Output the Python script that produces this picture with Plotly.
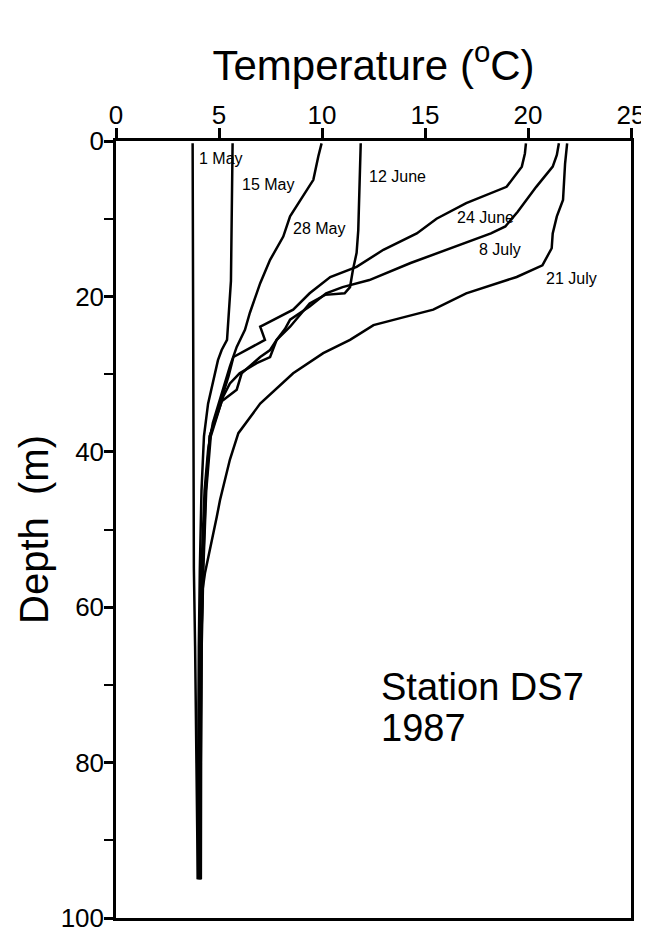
import plotly.graph_objects as go

# ---- data: temperature (deg C) vs depth (m) profiles, Station DS7, 1987 ----
may01_T = [3.72, 3.74, 3.76, 3.78, 3.84, 3.92, 3.97]
may01_D = [0.3, 20, 40, 55, 65, 80, 95]

may15_T = [5.66, 5.64, 5.60, 5.58, 5.39, 5.13, 4.95, 4.47, 4.27, 4.15, 4.07, 4.02, 3.99, 3.98]
may15_D = [0.3, 5, 14, 18, 25.6, 26.9, 28.2, 33.8, 38, 45, 55, 65, 80, 95]

may28_T = [9.98, 9.82, 9.58, 9.26, 8.45, 8.12, 7.48, 7.0, 6.5, 6.26, 5.86, 5.53, 5.13, 4.7, 4.47, 4.3, 4.15, 4.07, 4.04, 4.03]
may28_D = [0.3, 2, 5, 6.3, 9.7, 12.3, 15.3, 18.3, 22.1, 24.3, 26.5, 29, 32.4, 36.3, 39.8, 45, 55, 65, 80, 95]

jun12_T = [11.88, 11.84, 11.76, 11.68, 11.5, 11.36, 11.1, 10.15, 9.4, 8.45, 7.8, 7.48, 7.0, 6.1, 5.94, 5.86, 5.13, 4.55, 4.34, 4.2, 4.12, 4.08, 4.07]
jun12_D = [0.3, 3.7, 11.5, 14.4, 16.6, 18.8, 19.6, 19.8, 20.9, 23.9, 25.6, 26.9, 27.8, 29.9, 31.2, 32, 33.5, 38, 45, 55, 65, 80, 95]

jun24_T = [19.9, 19.85, 19.7, 18.96, 17.0, 15.56, 14.6, 12.98, 11.68, 10.4, 9.4, 8.6, 7.15, 7.0, 7.23, 5.7, 5.46, 5.05, 4.55, 4.36, 4.22, 4.14, 4.1, 4.1]
jun24_D = [0.3, 1.6, 3.3, 5.9, 8.0, 10, 11.9, 14, 16.2, 17.5, 19.6, 21.7, 23.7, 23.9, 25.6, 27.8, 30.3, 33.7, 38, 45, 55, 65, 80, 95]

jul08_T = [21.5, 21.4, 21.2, 20.4, 19.5, 18.9, 18.2, 16.2, 14.3, 12.3, 11.0, 10.2, 9.4, 8.45, 8.2, 7.8, 7.48, 6.83, 6.0, 5.53, 5.2, 4.6, 4.38, 4.24, 4.16, 4.13, 4.12]
jul08_D = [0.3, 1.8, 3.3, 5.9, 9.1, 11, 11.9, 13.8, 15.7, 17.9, 18.8, 19.6, 21.3, 23.0, 24.2, 25.6, 27.8, 28.6, 29.9, 31.2, 32.9, 38, 45, 55, 65, 80, 95]

jul21_T = [21.9, 21.8, 21.7, 21.4, 21.2, 21.15, 20.7, 19.45, 17.0, 15.4, 13.8, 12.5, 11.36, 10.06, 8.6, 7.0, 5.94, 5.53, 5.05, 4.89, 4.32, 4.2, 4.14, 4.1, 4.09]
jul21_D = [0.3, 2.9, 7.6, 9.7, 11.9, 13.8, 16, 17.5, 19.6, 21.7, 22.8, 23.7, 25.6, 27.3, 29.9, 33.8, 37.6, 41, 46.2, 48.4, 55.6, 57.8, 65, 80, 95]

series_names = ["1 May", "15 May", "28 May", "12 June", "24 June", "8 July", "21 July"]
series_T = [may01_T, may15_T, may28_T, jun12_T, jun24_T, jul08_T, jul21_T]
series_D = [may01_D, may15_D, may28_D, jun12_D, jun24_D, jul08_D, jul21_D]

# label anchor points (temperature, depth) for each profile's date label
label_T = [3.95, 6.0, 8.5, 12.2, 16.45, 17.5, 20.8]
label_D = [2.2, 5.6, 11.3, 4.6, 9.9, 14.0, 17.7]

x_ticks = [0, 5, 10, 15, 20, 25]
y_ticks = [0, 20, 40, 60, 80, 100]

FONT = "Liberation Sans, Arial, Helvetica, sans-serif"

fig = go.Figure()
for name, T, D in zip(series_names, series_T, series_D):
    fig.add_trace(go.Scatter(x=T, y=D, mode="lines", name=name,
                             line=dict(color="black", width=2.5),
                             showlegend=False, hoverinfo="x+y+name"))

for name, lt, ld in zip(series_names, label_T, label_D):
    fig.add_annotation(x=lt, y=ld, text=name, showarrow=False,
                       xanchor="left", yanchor="middle",
                       font=dict(family=FONT, size=16, color="black"))

fig.add_annotation(x=12.75, y=70.3, text="Station DS7", showarrow=False,
                   xanchor="left", yanchor="middle",
                   font=dict(family=FONT, size=38, color="black"))
fig.add_annotation(x=12.75, y=75.6, text="1987", showarrow=False,
                   xanchor="left", yanchor="middle",
                   font=dict(family=FONT, size=38, color="black"))

# page body has an 8px default margin, so the figure is sized/offset to fit
fig.update_layout(
    width=641, height=925,
    margin=dict(l=108, r=18, t=133, b=15),
    paper_bgcolor="white", plot_bgcolor="white",
    font=dict(family=FONT, color="black"),
)
fig.update_xaxes(
    side="top", range=[0, 25], tickvals=x_ticks, ticks="outside",
    ticklen=10, tickwidth=2.5, tickcolor="black",
    showline=True, linewidth=2.5, linecolor="black", mirror=True,
    showgrid=False, zeroline=False, automargin=False,
    ticklabeloverflow="allow", ticklabelstandoff=-6,
    tickfont=dict(family=FONT, size=26, color="black"),
    title=dict(text="Temperature (<sup>o</sup>C)", standoff=7,
               font=dict(family=FONT, size=42, color="black")),
)
fig.update_yaxes(
    range=[100, 0], tickvals=y_ticks, ticks="outside",
    ticklen=9, tickwidth=2.5, tickcolor="black",
    minor=dict(tickvals=[10, 30, 50, 70, 90], ticks="outside", ticklen=9,
               tickwidth=2, tickcolor="black"),
    showline=True, linewidth=2.5, linecolor="black", mirror=True,
    showgrid=False, zeroline=False, automargin=False,
    ticklabeloverflow="allow", ticklabelstandoff=-5,
    tickfont=dict(family=FONT, size=26, color="black"),
    title=dict(text="Depth  (m)", standoff=0,
               font=dict(family=FONT, size=40, color="black")),
)

fig.write_html("out.html")
